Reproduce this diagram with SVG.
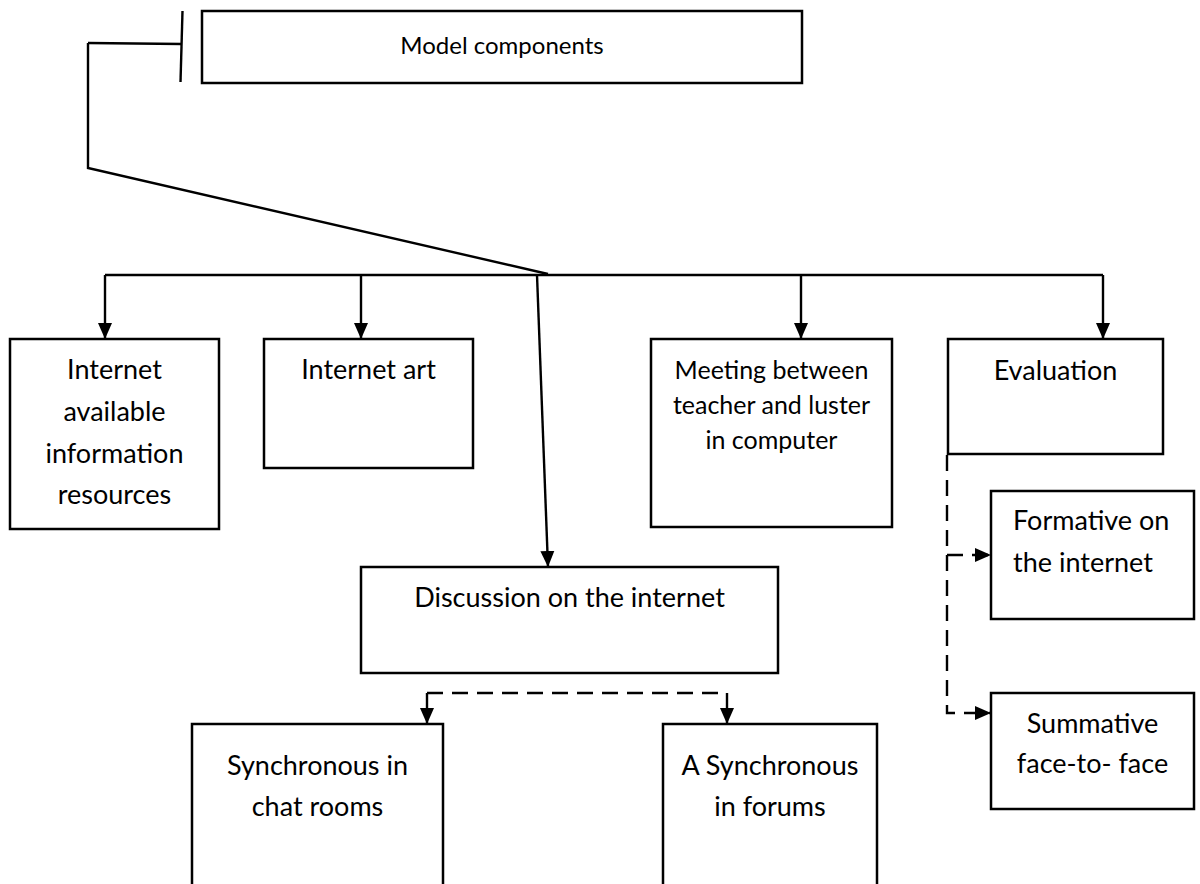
<svg xmlns="http://www.w3.org/2000/svg" width="1200" height="884" viewBox="0 0 1200 884">
<style>
.box{fill:#fff;stroke:#000;stroke-width:2.5}
.t{font-family:Lato,"Open Sans","Liberation Sans",sans-serif;font-size:27px;fill:#000;text-anchor:middle}
.ts{font-size:25px}
.tm{font-size:24px}
.ln{fill:none;stroke:#000;stroke-width:2.4}
.dash{stroke-dasharray:16 9}
</style>
<defs>
<marker id="ah" viewBox="0 0 16 14" refX="16" refY="7" markerWidth="16" markerHeight="15" markerUnits="userSpaceOnUse" orient="auto">
<path d="M0,0 L16,7 L0,14 z" fill="#000"/>
</marker>
</defs>
<rect width="1200" height="884" fill="#fff"/>
<g id="connectors">
<path class="ln" d="M182.5,11 L180.5,82"/>
<path class="ln" d="M88,43 L182,44"/>
<path class="ln" d="M88,43 L88,168 L548,274"/>
<path class="ln" d="M105,275 L1103,275"/>
<path class="ln" d="M105,275 L105,339" marker-end="url(#ah)"/>
<path class="ln" d="M361,275 L361,339" marker-end="url(#ah)"/>
<path class="ln" d="M801,275 L801,339" marker-end="url(#ah)"/>
<path class="ln" d="M1103,275 L1103,339" marker-end="url(#ah)"/>
<path class="ln" d="M537,275 L548,567" marker-end="url(#ah)"/>
<path class="ln dash" d="M427,693 L727,693"/>
<path class="ln" d="M427,693 L427,724" marker-end="url(#ah)"/>
<path class="ln" d="M727,693 L727,724" marker-end="url(#ah)"/>
<path class="ln dash" d="M947,455 L947,713 L991,713" marker-end="url(#ah)"/>
<path class="ln dash" d="M947,555 L991,555" marker-end="url(#ah)"/>
</g>
<g id="model-components">
<rect class="box" x="202" y="11" width="600" height="72"/>
<text class="t tm" x="502" y="54">Model components</text>
</g>
<g id="internet-resources">
<rect class="box" x="10" y="339" width="209" height="190"/>
<text class="t" x="114.5" y="379">Internet</text>
<text class="t" x="114.5" y="421">available</text>
<text class="t" x="114.5" y="463">information</text>
<text class="t" x="114.5" y="504">resources</text>
</g>
<g id="internet-art">
<rect class="box" x="264" y="339" width="209" height="129"/>
<text class="t" x="368.5" y="379">Internet art</text>
</g>
<g id="meeting">
<rect class="box" x="651" y="339" width="241" height="188"/>
<text class="t ts" x="771.5" y="379">Meeting between</text>
<text class="t ts" x="771.5" y="414">teacher and luster</text>
<text class="t ts" x="771.5" y="449">in computer</text>
</g>
<g id="evaluation">
<rect class="box" x="948" y="339" width="215" height="115"/>
<text class="t" x="1055.5" y="380">Evaluation</text>
</g>
<g id="formative">
<rect class="box" x="991" y="491" width="203" height="128"/>
<text class="t" x="1013" y="530" style="text-anchor:start">Formative on</text>
<text class="t" x="1013" y="572" style="text-anchor:start">the internet</text>
</g>
<g id="summative">
<rect class="box" x="991" y="693" width="203" height="116"/>
<text class="t" x="1092.5" y="733">Summative</text>
<text class="t" x="1092.5" y="773">face-to- face</text>
</g>
<g id="discussion">
<rect class="box" x="361" y="567" width="417" height="106"/>
<text class="t" x="569.5" y="607">Discussion on the internet</text>
</g>
<g id="synchronous">
<rect class="box" x="192" y="724" width="251" height="180"/>
<text class="t" x="317.5" y="775">Synchronous in</text>
<text class="t" x="317.5" y="816">chat rooms</text>
</g>
<g id="asynchronous">
<rect class="box" x="663" y="724" width="214" height="180"/>
<text class="t" x="770" y="775">A Synchronous</text>
<text class="t" x="770" y="816">in forums</text>
</g>
</svg>
